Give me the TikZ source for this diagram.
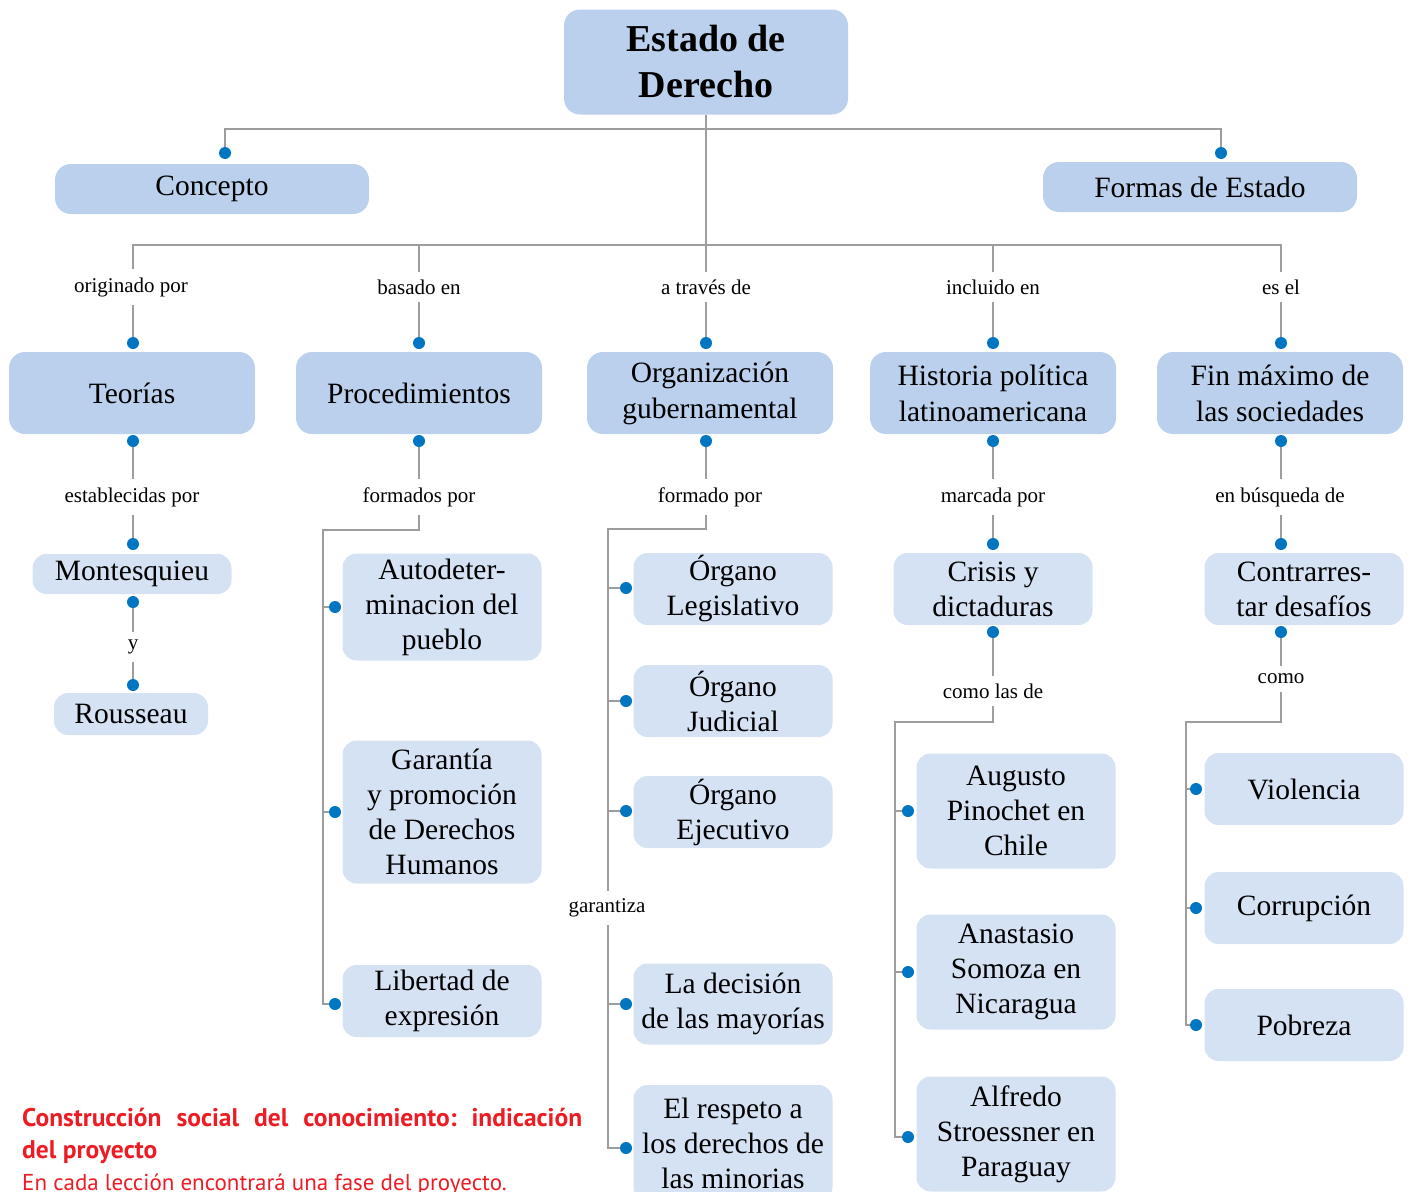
\documentclass[tikz,border=0pt]{standalone}
\usepackage{fontspec}
\setmainfont{Liberation Serif}
\newfontfamily\notefont{PT Sans}
\definecolor{boxdark}{HTML}{BAD0EC}
\definecolor{boxlight}{HTML}{D5E2F4}
\definecolor{dotblue}{HTML}{0075C2}
\definecolor{linegray}{HTML}{9D9D9D}
\definecolor{notered}{HTML}{ED1C24}
\frenchspacing
\tikzset{
  topbox/.style={fill=boxdark, rounded corners=16, inner sep=0, align=center,
    minimum width=284, minimum height=105, font=\bfseries\fontsize{38}{46}\selectfont},
  bigbox/.style={fill=boxdark, rounded corners=16, inner sep=0, align=center,
    minimum width=246, minimum height=82, font=\fontsize{29.5}{36}\selectfont},
  subbox/.style={fill=boxlight, rounded corners=14, inner sep=0, align=center,
    minimum width=199, font=\fontsize{29.5}{35}\selectfont},
  lbl/.style={fill=white, inner xsep=3, inner ysep=8, font=\fontsize{21}{25}\selectfont},
  conn/.style={draw=linegray, line width=1.4},
  notetext/.style={anchor=base west, inner sep=0, text=notered, font=\notefont\fontsize{23}{30}\selectfont}
}
\begin{document}
\begin{tikzpicture}[x=1pt,y=-1pt]
\useasboundingbox (0,0) rectangle (1410,1191);
% boxes
\node[topbox] (estado) at (706,62) {Estado de\\Derecho};
\node[bigbox, minimum width=314, minimum height=50] (concepto) at (212,189) {Concepto};
\node[bigbox, minimum width=314, minimum height=50] (formas) at (1200,187) {Formas de Estado};
\node[bigbox] (teorias) at (132,393) {Teorías};
\node[bigbox] (proced) at (419,393) {Procedimientos};
\node[bigbox] (organ) at (710,393) {Organización\\gubernamental};
\node[bigbox] (historia) at (993,393) {Historia política\\latinoamericana};
\node[bigbox] (fin) at (1280,393) {Fin máximo de\\las sociedades};
\node[subbox, minimum height=40] (montes) at (132,574) {Montesquieu};
\node[subbox, minimum width=154, minimum height=42] (rousseau) at (131,714) {Rousseau};
\node[subbox, minimum height=107] (autodet) at (442,607) {Autodeter-\\minacion del\\pueblo};
\node[subbox, minimum height=143] (garantia) at (442,812) {Garantía\\y promoción\\de Derechos\\Humanos};
\node[subbox, minimum height=72] (libertad) at (442,1001) {Libertad de\\expresión};
\node[subbox, minimum height=72] (legis) at (733,589) {Órgano\\Legislativo};
\node[subbox, minimum height=72] (judic) at (733,701) {Órgano\\Judicial};
\node[subbox, minimum height=72] (ejec) at (733,812) {Órgano\\Ejecutivo};
\node[subbox, minimum height=81] (decision) at (733,1004) {La decisión\\de las mayorías};
\node[subbox, minimum height=116] (respeto) at (733,1143) {El respeto a\\los derechos de\\las minorias};
\node[subbox, minimum height=72] (crisis) at (993,589) {Crisis y\\dictaduras};
\node[subbox, minimum height=115] (pinochet) at (1016,811) {Augusto\\Pinochet en\\Chile};
\node[subbox, minimum height=115] (somoza) at (1016,972) {Anastasio\\Somoza en\\Nicaragua};
\node[subbox, minimum height=115] (stroess) at (1016,1134) {Alfredo\\Stroessner en\\Paraguay};
\node[subbox, minimum height=72] (contra) at (1304,589) {Contrarres-\\tar desafíos};
\node[subbox, minimum height=72] (violencia) at (1304,789) {Violencia};
\node[subbox, minimum height=72] (corrup) at (1304,908) {Corrupción};
\node[subbox, minimum height=72] (pobreza) at (1304,1025) {Pobreza};
% dots and bends
\coordinate (dconc) at (225,153);
\coordinate (dformas) at (1221,153);
\coordinate (bar1) at (706,129);
\coordinate (bar2) at (706,245);
\coordinate (dteo1) at (133,343);  \coordinate (dteo2) at (133,441);
\coordinate (dpro1) at (419,343);  \coordinate (dpro2) at (419,441);
\coordinate (dorg1) at (706,343);  \coordinate (dorg2) at (706,441);
\coordinate (dhis1) at (993,343);  \coordinate (dhis2) at (993,441);
\coordinate (dfin1) at (1281,343); \coordinate (dfin2) at (1281,441);
\coordinate (dmon1) at (133,544);  \coordinate (dmon2) at (133,602);
\coordinate (drou) at (133,685);
\coordinate (dcri1) at (993,544);  \coordinate (dcri2) at (993,632);
\coordinate (dcon1) at (1281,544); \coordinate (dcon2) at (1281,632);
\coordinate (probar) at (419,530);  \coordinate (proend) at (323,1004);
\coordinate (orgbar) at (706,529);  \coordinate (orgend) at (608,1148);
\coordinate (hisbar) at (993,722);  \coordinate (hisend) at (895,1137);
\coordinate (conbar) at (1281,722); \coordinate (conend) at (1186,1025);
\coordinate (dauto) at (335,607);  \coordinate (dgar) at (335,812);  \coordinate (dlib) at (335,1004);
\coordinate (dleg) at (626,588);   \coordinate (djud) at (626,701);  \coordinate (deje) at (626,811);
\coordinate (ddec) at (626,1004);  \coordinate (dres) at (626,1148);
\coordinate (dpin) at (908,811);   \coordinate (dsom) at (908,972);  \coordinate (dstr) at (908,1137);
\coordinate (dvio) at (1196,789);  \coordinate (dcor) at (1196,908); \coordinate (dpob) at (1196,1025);
% connectors
\draw[conn] (dconc) |- (bar1) -| (dformas);
\draw[conn] (estado.south) -- (dorg1);
\draw[conn] (dteo1) |- (bar2) -| (dfin1);
\draw[conn] (dpro1) -- (dpro1 |- bar2);
\draw[conn] (dhis1) -- (dhis1 |- bar2);
\draw[conn] (dteo2) -- (dmon1);
\draw[conn] (dmon2) -- (drou);
\draw[conn] (dpro2) -- (probar) -| (proend) -- (dlib);
\draw[conn] (dauto) -- (dauto -| proend);
\draw[conn] (dgar) -- (dgar -| proend);
\draw[conn] (dorg2) -- (orgbar) -| (orgend) -- (dres);
\draw[conn] (dleg) -- (dleg -| orgend);
\draw[conn] (djud) -- (djud -| orgend);
\draw[conn] (deje) -- (deje -| orgend);
\draw[conn] (ddec) -- (ddec -| orgend);
\draw[conn] (dhis2) -- (dcri1);
\draw[conn] (dcri2) -- (hisbar) -| (hisend) -- (dstr);
\draw[conn] (dpin) -- (dpin -| hisend);
\draw[conn] (dsom) -- (dsom -| hisend);
\draw[conn] (dfin2) -- (dcon1);
\draw[conn] (dcon2) -- (conbar) -| (conend) -- (dpob);
\draw[conn] (dvio) -- (dvio -| conend);
\draw[conn] (dcor) -- (dcor -| conend);
\foreach \d in {dconc,dformas,dteo1,dteo2,dpro1,dpro2,dorg1,dorg2,dhis1,dhis2,dfin1,dfin2,
  dmon1,dmon2,drou,dcri1,dcri2,dcon1,dcon2,dauto,dgar,dlib,dleg,djud,deje,ddec,dres,
  dpin,dsom,dstr,dvio,dcor,dpob}
  \fill[dotblue] (\d) circle (6);
% labels
\node[lbl] (l1) at (131,287) {originado por};
\node[lbl] (l2) at (419,287) {basado en};
\node[lbl] (l3) at (706,287) {a través de};
\node[lbl] (l4) at (993,287) {incluido en};
\node[lbl] (l5) at (1281,287) {es el};
\node[lbl] (l6) at (132,497) {establecidas por};
\node[lbl] (l7) at (133,647) {y};
\node[lbl] (l8) at (419,497) {formados por};
\node[lbl] (l9) at (710,497) {formado por};
\node[lbl] (l10) at (607,908) {garantiza};
\node[lbl] (l11) at (993,497) {marcada por};
\node[lbl] (l12) at (993,691) {como las de};
\node[lbl] (l13) at (1280,497) {en búsqueda de};
\node[lbl] (l14) at (1281,679) {como};
% note
\node[notetext, font=\notefont\bfseries\fontsize{25.5}{30}\selectfont] (note1) at (22,1126)
  {\makebox[560pt][s]{Construcción social del conocimiento: indicación}};
\node[notetext, font=\notefont\bfseries\fontsize{25.5}{30}\selectfont] (note2) at (22,1158) {del proyecto};
\node[notetext] (note3) at (22,1190) {En cada lección encontrará una fase del proyecto.};
\end{tikzpicture}
\end{document}
